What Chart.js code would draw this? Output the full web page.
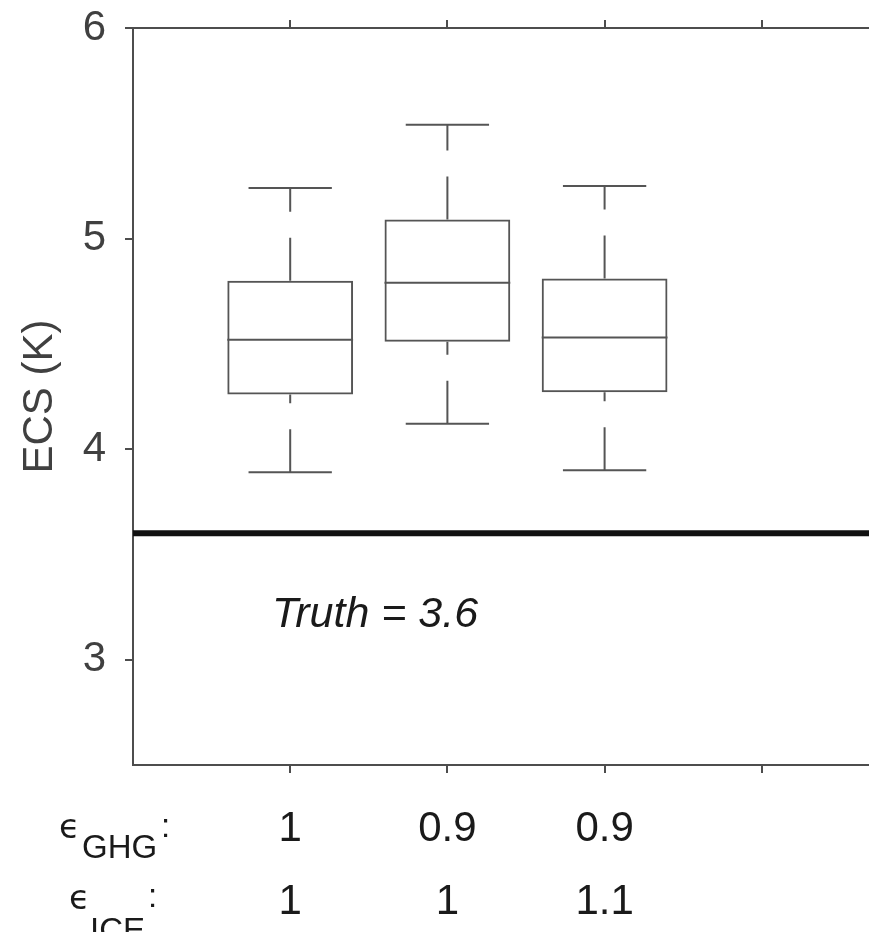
<!DOCTYPE html>
<html>
<head>
<meta charset="utf-8">
<script src="https://cdn.jsdelivr.net/npm/chart.js@4"></script>
<style>
  html, body { margin: 0; padding: 0; background: #fff; }
  #wrap { width: 869px; height: 932px; }
</style>
</head>
<body>
<div id="wrap"><canvas id="c" width="869" height="932"></canvas></div>
<script>
// box plot values
const xPos = [1, 2, 3]
const q1 = [4.26, 4.51, 4.27]
const median = [4.52, 4.79, 4.53]
const q3 = [4.80, 5.09, 4.81]
const whiskerLo = [3.89, 4.12, 3.90]
const whiskerHi = [5.24, 5.54, 5.25]
const truth = 3.6

const ghgLabels = ["1", "0.9", "0.9"]
const iceLabels = ["1", "1", "1.1"]
const yTicks = [3, 4, 5, 6]
const xTicks = [1, 2, 3, 4]

const X_MAX = 4.682
const AXIS = "#4d4d4d"
const BOX = "#555555"
const FONT = "'Liberation Sans', Arial, sans-serif"

function noPad(s) {
    s.paddingTop = 0
    s.paddingBottom = 0
    s.paddingLeft = 0
    s.paddingRight = 0
}

const boxParts = {
    id: "boxParts",
    afterDatasetsDraw(chart) {
        const ctx = chart.ctx
        const x = chart.scales.x
        const y = chart.scales.y
        ctx.save()
        ctx.strokeStyle = BOX
        ctx.lineWidth = 2
        for (let i = 0; i < xPos.length; i++) {
            const left = x.getPixelForValue(xPos[i] - 0.4)
            const right = x.getPixelForValue(xPos[i] + 0.4)
            const cx = x.getPixelForValue(xPos[i])
            const capL = x.getPixelForValue(xPos[i] - 0.265)
            const capR = x.getPixelForValue(xPos[i] + 0.265)

            // median
            ctx.setLineDash([])
            ctx.beginPath()
            ctx.moveTo(left, y.getPixelForValue(median[i]))
            ctx.lineTo(right, y.getPixelForValue(median[i]))
            ctx.stroke()

            // caps
            ctx.beginPath()
            ctx.moveTo(capL, y.getPixelForValue(whiskerHi[i]))
            ctx.lineTo(capR, y.getPixelForValue(whiskerHi[i]))
            ctx.moveTo(capL, y.getPixelForValue(whiskerLo[i]))
            ctx.lineTo(capR, y.getPixelForValue(whiskerLo[i]))
            ctx.stroke()

            // dashed whiskers, drawn bottom to top
            ctx.setLineDash([43, 26])
            ctx.beginPath()
            ctx.moveTo(cx, y.getPixelForValue(q3[i]))
            ctx.lineTo(cx, y.getPixelForValue(whiskerHi[i]))
            ctx.stroke()
            ctx.beginPath()
            ctx.moveTo(cx, y.getPixelForValue(whiskerLo[i]))
            ctx.lineTo(cx, y.getPixelForValue(q1[i]))
            ctx.stroke()
        }
        ctx.restore()
    },
    afterDraw(chart) {
        const ctx = chart.ctx
        const x = chart.scales.x
        const y = chart.scales.y
        ctx.save()
        ctx.fillStyle = "#1a1a1a"
        ctx.textBaseline = "alphabetic"
        ctx.textAlign = "left"
        ctx.font = "italic 43px " + FONT
        ctx.fillText("Truth = 3.6", x.getPixelForValue(0.885), y.getPixelForValue(3.157))

        // row labels under the axis
        ctx.font = "34px 'DejaVu Sans', sans-serif"
        ctx.fillText("\u03F5", 59, 838)
        ctx.fillText("\u03F5", 69, 909)
        ctx.font = "33px " + FONT
        ctx.fillText("GHG", 82, 858)
        ctx.fillText(":", 161, 837)
        ctx.fillText("ICE", 90, 941)
        ctx.fillText(":", 148, 907)
        ctx.restore()
    }
}

new Chart(document.getElementById("c"), {
    type: "bar",
    data: {
        datasets: [
            {
                type: "bar",
                data: xPos.map((v, i) => ({ x: v, y: [q1[i], q3[i]] })),
                backgroundColor: "rgba(255,255,255,0)",
                borderColor: BOX,
                borderWidth: 2,
                borderSkipped: false,
                categoryPercentage: 1,
                barPercentage: 0.8
            },
            {
                type: "line",
                data: [{ x: 0, y: truth }, { x: X_MAX, y: truth }],
                borderColor: "#111111",
                borderWidth: 6,
                pointRadius: 0
            }
        ]
    },
    options: {
        responsive: false,
        animation: false,
        layout: { padding: 0 },
        plugins: { legend: { display: false }, tooltip: { enabled: false } },
        scales: {
            x: {
                type: "linear",
                position: "bottom",
                offset: false,
                min: 0,
                max: X_MAX,
                afterBuildTicks: (s) => { s.ticks = xTicks.map(v => ({ value: v })) },
                afterFit: (s) => { s.height = 167; noPad(s) },
                grid: { drawOnChartArea: false, offset: false, tickLength: 8, color: AXIS, lineWidth: 2 },
                border: { color: AXIS, width: 2 },
                ticks: {
                    padding: 20,
                    maxRotation: 0,
                    color: "#1a1a1a",
                    font: { family: FONT, size: 42, lineHeight: 1.738 },
                    callback: (v) => {
                        const i = xPos.indexOf(v)
                        return i < 0 ? "" : [ghgLabels[i], iceLabels[i]]
                    }
                }
            },
            x2: {
                type: "linear",
                position: "top",
                offset: false,
                min: 0,
                max: X_MAX,
                afterBuildTicks: (s) => { s.ticks = xTicks.map(v => ({ value: v })) },
                afterFit: (s) => { s.height = 28; noPad(s) },
                grid: { drawOnChartArea: false, offset: false, tickLength: 8, color: AXIS, lineWidth: 2 },
                border: { color: AXIS, width: 2 },
                ticks: { display: false }
            },
            y: {
                min: 2.5,
                max: 6,
                afterBuildTicks: (s) => { s.ticks = yTicks.map(v => ({ value: v })) },
                afterFit: (s) => { s.width = 133; noPad(s) },
                grid: { drawOnChartArea: false, tickLength: 8, color: AXIS, lineWidth: 2 },
                border: { color: AXIS, width: 2 },
                ticks: {
                    padding: 19,
                    color: "#404040",
                    font: { family: FONT, size: 42 }
                },
                title: {
                    display: true,
                    text: "ECS (K)",
                    color: "#404040",
                    padding: { top: 15, bottom: 0 },
                    font: { family: FONT, size: 42 }
                }
            }
        }
    },
    plugins: [boxParts]
})
</script>
</body>
</html>
